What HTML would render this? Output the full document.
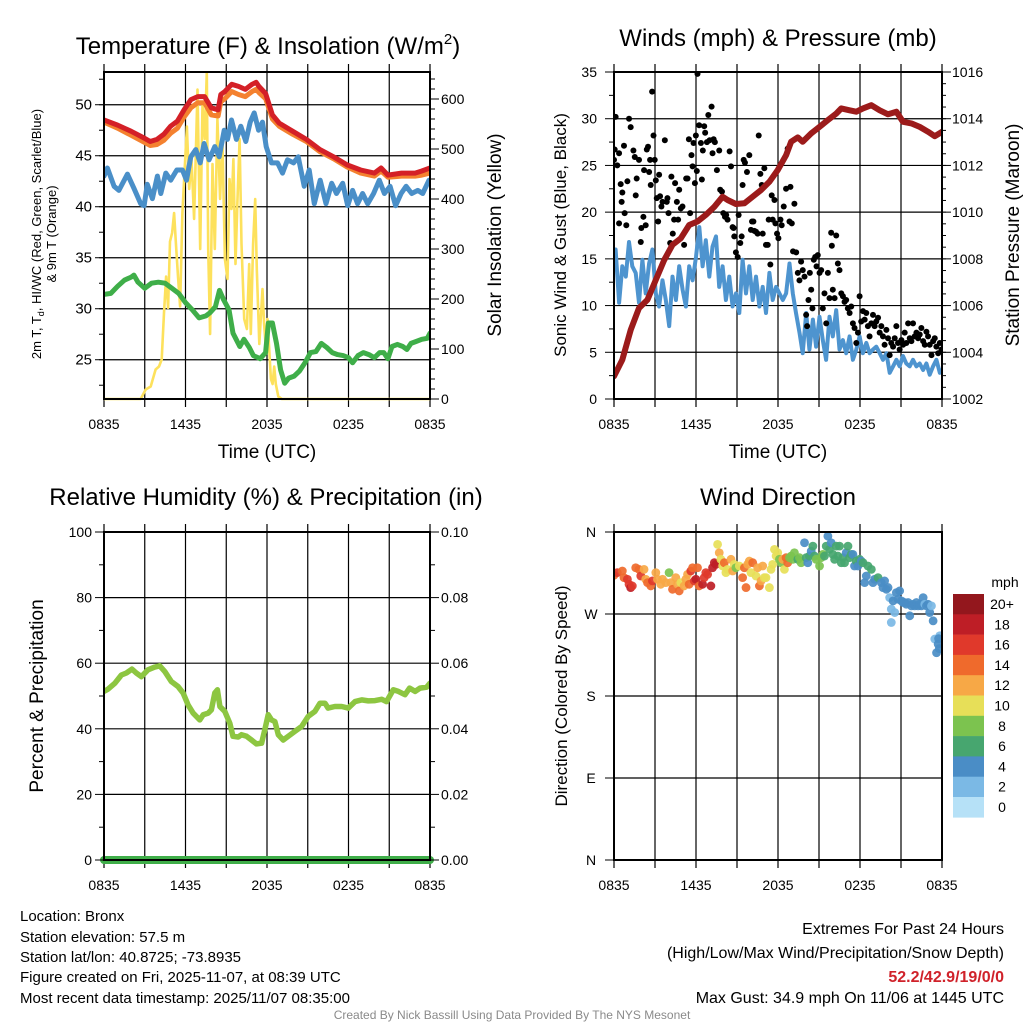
<!DOCTYPE html>
<html><head><meta charset="utf-8">
<style>
html,body{margin:0;padding:0;background:#fff;}
svg{display:block;font-family:"Liberation Sans",Arial,sans-serif;}
</style></head>
<body>
<svg id="chart" width="1024" height="1024" viewBox="0 0 1024 1024" xmlns="http://www.w3.org/2000/svg">
<defs>
<clipPath id="c1"><rect x="104" y="72" width="326" height="331"/></clipPath>
<clipPath id="c2"><rect x="614" y="72" width="328" height="331"/></clipPath>
<clipPath id="c3"><rect x="104" y="532" width="326" height="332"/></clipPath>
<clipPath id="c4"><rect x="614" y="532" width="328" height="332"/></clipPath>
</defs>
<g id="layer"></g>
<text x="268" y="54" font-size="24" text-anchor="middle">Temperature (F) &amp; Insolation (W/m<tspan font-size="15" dy="-10">2</tspan><tspan dy="10">)</tspan></text>
<text x="778" y="46" font-size="24" text-anchor="middle">Winds (mph) &amp; Pressure (mb)</text>
<text x="266" y="505" font-size="24" text-anchor="middle">Relative Humidity (%) &amp; Precipitation (in)</text>
<text x="778" y="505" font-size="24" text-anchor="middle">Wind Direction</text>

<text transform="translate(41,234) rotate(-90)" font-size="13" text-anchor="middle">2m T, T<tspan font-size="9" dy="3">d</tspan><tspan dy="-3">, HI/WC (Red, Green, Scarlet/Blue)</tspan></text>
<text transform="translate(56,234) rotate(-90)" font-size="13" text-anchor="middle">&amp; 9m T (Orange)</text>
<text transform="translate(501,235) rotate(-90)" font-size="19" text-anchor="middle">Solar Insolation (Yellow)</text>
<text transform="translate(566,235) rotate(-90)" font-size="17" text-anchor="middle">Sonic Wind &amp; Gust (Blue, Black)</text>
<text transform="translate(1019,235) rotate(-90)" font-size="19" text-anchor="middle">Station Pressure (Maroon)</text>
<text transform="translate(43,696) rotate(-90)" font-size="19" text-anchor="middle">Percent &amp; Precipitation</text>
<text transform="translate(567,696) rotate(-90)" font-size="17" text-anchor="middle">Direction (Colored By Speed)</text>
<text x="267" y="458" font-size="19" text-anchor="middle">Time (UTC)</text>
<text x="778" y="458" font-size="19" text-anchor="middle">Time (UTC)</text>

<g font-size="15">
<text x="20" y="921">Location: Bronx</text>
<text x="20" y="942">Station elevation: 57.5 m</text>
<text x="20" y="962">Station lat/lon: 40.8725; -73.8935</text>
<text x="20" y="982">Figure created on Fri, 2025-11-07, at 08:39 UTC</text>
<text x="20" y="1003">Most recent data timestamp: 2025/11/07 08:35:00</text>
</g>
<g font-size="16" text-anchor="end">
<text x="1004" y="934">Extremes For Past 24 Hours</text>
<text x="1004" y="958">(High/Low/Max Wind/Precipitation/Snow Depth)</text>
<text x="1004" y="982" fill="#d0222a" font-weight="bold">52.2/42.9/19/0/0</text>
<text x="1004" y="1003">Max Gust: 34.9 mph On 11/06 at 1445 UTC</text>
</g>
<text x="512" y="1019" font-size="12" fill="#8a8a8a" text-anchor="middle">Created By Nick Bassill Using Data Provided By The NYS Mesonet</text>
</svg>
<script>
// ---------- Panel 1: temperature ----------
const tempTimes=[0,1,2,3,3.4,3.9,4.4,4.9,5.4,5.9,6.4,6.9,7.4,7.9,8.4,8.6,8.9,9.4,9.9,10.4,10.9,11.2,11.4,11.9,12.4,12.9,13.9,14.9,15.9,16.9,17.9,18.9,19.9,20.4,20.9,21.9,22.9,23.4,24];
const tempRed=[48.5,48.0,47.4,46.7,46.4,46.6,47.1,47.9,48.4,49.5,50.5,50.8,50.8,49.7,49.5,51.0,51.3,52.0,51.8,51.5,52.0,52.2,51.8,51.1,49.0,48.2,47.4,46.6,45.6,44.9,44.1,43.6,43.3,43.8,43.1,43.3,43.3,43.5,43.8];
const tempOrange=[48.3,47.7,47.0,46.3,46.0,46.1,46.5,47.2,47.7,48.8,49.7,50.2,50.2,49.0,48.9,50.3,50.6,51.3,51.0,50.8,51.3,51.5,51.2,50.6,48.6,47.9,47.1,46.4,45.4,44.7,43.9,43.3,43.0,43.5,42.9,43.0,43.0,43.1,43.3];
const hiwcTimes=[0,0.25,0.74,1.1,1.72,2.21,2.7,2.95,3.19,3.56,3.93,4.18,4.55,4.91,5.36,5.77,6.07,6.39,6.76,7.08,7.37,7.74,8.16,8.48,8.85,9.09,9.39,9.75,10.07,10.44,10.76,11.06,11.38,11.67,11.94,12.33,12.78,13.14,13.51,13.96,14.3,14.74,15.11,15.48,15.92,16.34,16.76,17.12,17.57,17.94,18.3,18.67,19.04,19.41,19.85,20.27,20.64,21.06,21.47,21.87,22.24,22.65,23.1,23.46,23.93];
const hiwcBlue=[43.0,43.8,42.0,41.6,43.2,41.8,40.3,40.1,42.2,40.8,43.0,41.3,43.3,42.6,43.6,43.6,42.6,44.9,45.6,44.3,46.2,44.6,45.9,44.9,47.5,46.6,48.5,46.6,47.9,46.4,48.3,49.2,47.5,48.3,45.9,44.3,44.3,43.3,44.6,44.3,44.9,42.0,43.6,40.3,42.6,40.3,42.3,41.3,42.3,40.1,41.6,40.3,41.3,40.3,41.3,42.6,41.3,42.0,40.1,41.3,42.0,41.3,41.6,41.3,42.6];
const dewTimes=[0,0.5,1,1.5,2,2.2,2.5,3,3.5,4,4.5,5,5.5,6,6.5,7,7.5,7.8,8.2,8.5,8.8,9.2,9.5,10,10.3,10.7,11,11.5,11.9,12.1,12.4,12.7,13,13.3,13.6,14,14.4,14.8,15.2,15.6,16,16.4,16.8,17.2,17.6,18,18.3,18.7,19.1,19.5,19.9,20.3,20.6,20.9,21.2,21.6,22,22.3,22.6,23,23.4,23.8,24];
const dewGreen=[31.4,31.5,32.2,32.8,33.1,33.3,32.6,32.0,32.5,32.6,32.5,32.0,31.5,30.6,29.9,29.1,29.3,29.6,30.2,31.8,30.9,29.9,27.6,26.3,27.0,26.2,25.4,25.1,25.7,28.6,28.6,26.6,24.0,22.7,23.2,23.4,23.9,24.7,25.7,25.8,26.6,26.2,25.7,25.5,25.4,25.2,24.7,25.4,25.7,25.5,25.2,25.7,25.7,25.1,26.3,26.5,26.3,26.0,26.6,26.8,27.0,27.1,27.6];
const solarTimes=[0,2.7,3.07,3.44,3.8,4.05,4.25,4.42,4.57,4.72,4.86,5.01,5.16,5.31,5.45,5.6,5.77,6.1,6.27,6.44,6.63,6.88,7.08,7.25,7.42,7.57,7.67,7.81,7.99,8.16,8.35,8.55,8.72,8.9,9.09,9.24,9.39,9.53,9.68,9.83,9.98,10.12,10.32,10.52,10.69,10.81,10.98,11.13,11.25,11.43,11.67,11.79,11.92,12.04,12.16,12.29,12.41,12.53,12.65,12.83,13.1,24];
const solarYellow=[0,0,19,25,59,65,79,172,245,182,315,332,372,305,245,185,372,545,420,480,360,619,300,590,520,655,300,130,470,300,560,400,520,280,240,440,380,480,270,400,520,310,160,140,270,130,310,400,260,110,220,150,100,160,100,40,30,65,30,5,0,0];
const tempTicks=[25,30,35,40,45,50];
const solarTicks=[0,100,200,300,400,500,600];
const timeTickLabels=["0835","1435","2035","0235","0835"];
// ---------- Panel 2: winds ----------
const windTimes=[0,0.12,0.37,0.61,0.86,1.1,1.34,1.59,1.83,2.08,2.32,2.57,2.81,3.06,3.3,3.55,3.79,4.04,4.28,4.53,4.77,5.02,5.26,5.5,5.75,6.0,6.24,6.48,6.72,6.97,7.21,7.46,7.7,7.95,8.19,8.44,8.68,8.93,9.17,9.41,9.66,9.9,10.15,10.39,10.64,10.88,11.12,11.37,11.61,11.86,12.1,12.35,12.59,12.84,13.08,13.32,13.57,13.81,14.06,14.3,14.55,14.79,15.04,15.28,15.52,15.77,16.01,16.26,16.5,16.75,16.99,17.24,17.48,17.73,17.97,18.21,18.46,18.7,18.95,19.19,19.44,19.68,19.93,20.17,20.42,20.66,20.9,21.15,21.39,21.64,21.88,22.13,22.37,22.62,22.86,23.1,23.35,23.59,23.84,24];
const windSpeed=[14.5,16,10.3,14.2,13.1,16.8,14.2,13.5,10.3,14.9,11.3,14.5,16,11.3,9.9,12.7,10.6,7.8,13.1,10.6,14.2,11.7,9.9,14.2,12.7,15.2,18.4,14.2,17,13.1,16.3,17.4,12,14.2,10.6,13.1,9.9,11.3,9.2,14.9,11.3,14.2,10.6,13.1,9.9,12,9.2,13.5,10.6,12,11.3,10.6,11.3,14.5,11.3,9.2,7.1,4.9,9.2,5.3,8.5,5.6,8.8,6.3,4.2,8.8,6.7,9.5,5.3,6.3,4.9,6.7,4.2,5.3,6.7,4.9,6,4.9,5.3,5.6,4.9,4.2,4.9,2.8,3.5,4.2,3.5,4.6,3.8,3.5,4.2,3.5,3.8,3.1,3.8,2.6,3.5,4.2,2.8,3.1];
const gustTimes=[0,0.05,0.12,0.24,0.37,0.49,0.61,0.56,0.78,0.37,0.9,0.73,1.1,1.22,0.98,1.42,1.52,1.59,1.66,1.83,1.96,2.0,2.15,2.2,2.32,2.4,2.49,2.57,2.64,2.69,2.79,2.89,2.98,3.06,3.13,3.23,3.3,3.37,3.47,3.55,3.72,3.86,3.91,3.99,4.11,4.2,4.3,4.4,4.47,4.6,4.69,4.77,4.89,5.01,5.13,5.28,5.38,5.48,5.57,5.67,5.75,5.82,5.92,5.99,6.06,6.11,6.23,6.36,6.43,6.5,6.6,6.67,6.8,6.9,7,7.14,7.21,7.29,7.38,7.53,7.7,7.77,7.9,8,8.12,8.21,8.31,8.46,8.56,8.68,8.75,8.8,8.92,9.05,9.12,9.24,9.34,9.41,9.49,9.58,9.73,9.9,10.02,10.1,10.2,10.27,10.39,10.51,10.59,10.71,10.81,10.88,11,11.12,11.25,11.32,11.44,11.54,11.61,11.74,11.81,11.93,12.03,12.18,12.27,12.42,12.59,12.71,12.84,12.91,13.01,13.1,13.2,13.33,13.45,13.57,13.69,13.81,13.94,14.06,14.13,14.23,14.33,14.43,14.52,14.62,14.72,14.82,14.91,15.04,15.16,15.28,15.4,15.53,15.65,15.77,15.89,15.94,16.01,16.14,16.26,16.38,16.5,16.63,16.75,16.87,16.99,17.11,17.24,17.36,17.48,17.6,17.73,17.85,17.97,18.09,18.22,18.34,18.46,18.58,18.7,18.83,18.95,19.07,19.19,19.32,19.44,19.56,19.68,19.8,19.93,20.05,20.17,20.29,20.42,20.54,20.66,20.78,20.9,21.03,21.15,21.27,21.39,21.52,21.64,21.76,21.88,22,22.13,22.25,22.37,22.49,22.62,22.74,22.86,22.98,23.1,23.23,23.35,23.47,23.59,23.72,23.84,23.96];
const gustSpeed=[25.6,26.7,30.2,25,26.3,23,22.1,21.1,19.9,18.8,18.6,27.1,30,29.1,23.3,26.6,25.9,21.8,23.6,25.6,16.8,18.3,19.5,24.5,18.6,26.7,27,24.3,25.6,22.9,32.9,28.2,25.6,23.4,21.5,19,24,21.7,20.6,21.1,27.7,21.1,21.5,19.9,16.7,23.8,17.7,19.2,23.1,21.1,19.2,22.4,20.4,20.6,16.5,23.6,23.6,27.8,19.9,26.1,24.9,27.4,23.1,28.2,24.4,34.8,29.3,27.4,23.5,26.6,29.2,28.5,27.5,30.4,27.7,31.3,26.3,27.8,27.5,24.5,26.6,22.4,22.2,19.9,19.5,19.7,19.2,26.5,24.9,18.4,18.3,17.4,15.7,15.2,19.7,16.7,17.4,22.9,25.6,25.3,24.3,26.1,18.1,19,19,18,17.9,17.7,28.2,24.1,22.9,17.7,24.7,16.5,16.5,19.2,14.4,21.8,19.2,21.3,18.8,17.7,17.2,19.2,18.6,20.6,22.5,26.8,19,22.7,18.8,15.8,20.9,15.7,13.5,12.7,14.7,13.8,13.1,9,7.8,10.6,13.5,11.7,9.7,14.9,15.2,14.2,15.4,13.5,13.8,9.7,11.3,8.1,13.5,10.8,17.8,16.4,11.7,10.8,17.5,14.5,13.8,11.3,11,10.4,10.6,9.7,9.2,9.9,8.1,7.6,6,7.1,11,8.3,9.4,8.5,9.2,7.8,6.7,8.1,9,7.8,8.3,8.7,7.1,7.8,6.7,5.8,7.4,6.5,4.7,6,5.6,6.5,7.8,6,5.3,6.3,5.8,7.1,6,8.1,6.5,6.2,8.1,6.7,7.1,6.5,6.9,7.6,6.2,5.8,7.2,6.7,5.8,4.7,6.2,6.5,5.6,4.9,6,5.3];
const pressTimes=[0,0.61,1.22,1.83,2.45,3.06,3.67,4.28,4.89,5.5,6.11,6.72,7.34,7.95,8.31,8.92,9.54,10.15,10.76,11.37,11.98,12.59,12.96,13.45,13.81,14.43,15.04,15.65,16.26,16.63,17.24,17.73,18.22,18.83,19.44,20.05,20.66,21.15,21.76,22.37,22.98,23.47,24];
const pressure=[1002.97,1003.68,1004.96,1005.89,1006.25,1007.1,1007.95,1008.6,1008.88,1009.45,1009.6,1009.88,1010.23,1010.66,1010.52,1010.35,1010.38,1010.66,1010.95,1011.3,1011.8,1012.44,1013.01,1013.2,1013.01,1013.37,1013.65,1013.94,1014.22,1014.44,1014.36,1014.3,1014.44,1014.58,1014.36,1014.19,1014.3,1013.87,1013.8,1013.65,1013.44,1013.25,1013.44];
const windTicks=[0,5,10,15,20,25,30,35];
const pressTicks=[1002,1004,1006,1008,1010,1012,1014,1016];
// ---------- Panel 3: humidity ----------
const rhTimes=[0,0.3,0.8,1.28,1.65,2.06,2.38,2.75,3.24,3.73,4.1,4.47,4.96,5.45,5.82,6.19,6.56,7.05,7.3,7.67,7.91,8.16,8.35,8.53,8.89,9.26,9.5,9.88,10.12,10.5,10.86,11.23,11.6,11.84,12.09,12.33,12.58,12.83,13.19,13.56,14.05,14.55,15.04,15.53,15.9,16.27,16.5,17,17.5,17.98,18.48,18.97,19.46,19.95,20.44,20.8,21.3,21.67,22.16,22.5,22.9,23.27,23.76,24];
const rhValues=[51.4,52.1,53.9,56.4,57.0,58.2,57.0,55.9,58.0,58.8,59.2,57.5,54.4,52.9,50.9,47.3,44.8,42.7,44.3,44.8,45.8,50.9,51.9,46.8,45.3,41.7,37.7,37.5,38.2,37.7,36.6,35.4,35.6,39.7,44.3,42.7,42.2,38.2,36.6,37.7,39.2,40.7,43.8,45.3,47.8,47.8,46.3,46.8,46.8,46.3,48.3,48.8,48.5,48.6,49.0,48.3,51.9,51.4,50.4,52.4,51.4,52.4,52.7,53.9];
const precipTimes=[0,24];
const precipValues=[0,0];
const rhTicks=[0,20,40,60,80,100];
const precipTickLabels=["0.00","0.02","0.04","0.06","0.08","0.10"];
// ---------- Panel 4: direction ----------
const dirTimes=[0,0.24,0.61,0.73,0.98,1.1,1.22,1.34,1.59,1.83,1.96,2.2,2.32,2.45,2.69,2.81,3.06,3.18,3.42,3.55,3.79,4.03,4.16,4.28,4.52,4.65,4.77,4.89,5.13,5.26,5.38,5.5,5.62,5.75,5.87,5.99,6.11,6.23,6.48,6.6,6.72,6.85,7.09,7.21,7.34,7.46,7.58,7.7,7.82,7.95,8.07,8.19,8.31,8.56,8.68,8.8,8.92,9.17,9.41,9.54,9.66,9.78,9.9,10.02,10.15,10.39,10.51,10.64,10.76,10.88,11,11.12,11.37,11.49,11.61,11.74,11.86,11.98,12.1,12.23,12.35,12.47,12.59,12.71,12.84,12.96,13.08,13.2,13.45,13.57,13.69,13.94,14.06,14.18,14.3,14.43,14.55,14.67,14.79,15.04,15.16,15.28,15.4,15.53,15.65,15.77,15.89,16.01,16.14,16.26,16.38,16.5,16.63,16.75,16.87,16.99,17.12,17.24,17.36,17.48,17.6,17.73,17.85,17.97,18.09,18.22,18.34,18.46,18.58,18.83,18.95,19.07,19.32,19.56,19.68,19.8,19.93,20.05,20.17,20.29,20.29,20.42,20.54,20.66,20.78,20.9,21.03,21.15,21.27,21.39,21.52,21.64,21.76,21.88,22,22.13,22.25,22.37,22.49,22.62,22.74,22.86,22.98,23.1,23.23,23.35,23.47,23.84,23.72,23.8,23.6,23.75];
const dirDegrees=[312.5,315.4,317.2,309.9,308.1,302.6,299,300.8,320.8,319,311.7,319,308.1,304.4,300.8,306.3,315.4,308.1,302.6,308.1,304.4,315.4,304.4,297.1,309.9,302.6,295.3,304.4,300.8,308.1,313.5,302.6,317.2,320.8,306.3,308.1,320.8,300.8,302.6,309.9,315.4,313.5,300.8,320.8,326.3,324.5,346.4,337.2,330,322.7,326.3,315.4,319,330,317.2,324.5,320.8,322.7,309.9,320.8,299,324.5,328.1,315.4,326.3,311.7,320.8,300.8,306.3,322.7,309.9,309.9,299,319,324.5,340.9,333.6,337.2,330,326.3,330,319,331.8,326.3,331.8,333.6,330,337.2,330,331.8,326.3,348.2,331.8,326.3,333.6,339,344.5,333.6,330,322.7,331.8,335.4,333.6,344.5,355.5,340.9,348.2,335.4,330,344.5,333.6,344.5,326.3,331.8,326.3,337.2,344.5,331.8,335.4,335.4,322.7,328.1,322.7,330,328.1,326.3,304.4,311.7,322.7,319,304.4,308.1,309.9,304.4,299,306.3,297.1,299,288,275.3,260.7,284.4,271.6,293.5,286.2,295.3,284.4,282.6,282.6,280.7,282.6,268,278.9,280.7,278.9,282.6,278.9,280.7,278.9,288,280.7,278.9,280.7,271.6,278.9,262.5,242.5,246.1,237,232,227.5,243];
const dirSpeeds=[15,16,15,14,16,17,18,16,15,14,16,13,12,14,15,17,12,12,12,13,12,8,12,14,13,12,15,11,13,12,12,14,16,15,17,18,14,14,18,17,17,17,18,18,19,18,10,13,10,10,14,10,10,12,12,10,8,10,15,14,15,13,12,10,14,10,12,15,13,12,10,10,10,11,11,10,10,10,8,8,12,10,14,15,9,8,8,8,7,8,8,4,6,4,7,4,6,7,8,8,8,8,6,6,4,6,4,6,7,6,6,6,6,6,6,4,6,6,6,4,4,6,4,6,5,6,4,4,6,6,4,4,6,4,4,4,4,4,3,3,3,4,3,4,4,4,4,4,4,4,4,4,4,4,4,4,4,4,4,4,3,4,4,4,3,4,3,3,4,4,4,4,4];
const dirTickLabels=["N","E","S","W","N"];
const speedBinLabels=["0","2","4","6","8","10","12","14","16","18","20+"];
const speedBinColors=["#b6e1f7","#7bb9e5","#4a8dc6","#47a66f","#7cc34f","#e7df58","#f7a846","#ef6a2c","#e0392b","#be1e26","#93171d"];

const NS="http://www.w3.org/2000/svg";
const layer=document.getElementById('layer');
function mk(tag,attrs,parent){const e=document.createElementNS(NS,tag);for(const k in attrs)e.setAttribute(k,attrs[k]);(parent||layer).appendChild(e);return e;}
function txt(x,y,s,size,anchor,parent){const t=mk('text',{x:x,y:y,'font-size':size,'text-anchor':anchor},parent);t.textContent=s;return t;}

const P1={x0:104,x1:430,y0:72,y1:399};
const P2={x0:614,x1:942,y0:72,y1:399};
const P3={x0:104,x1:430,y0:532,y1:860};
const P4={x0:614,x1:942,y0:532,y1:860};
function xs(P){return t=>P.x0+t*(P.x1-P.x0)/24;}
const x1=xs(P1),x2=xs(P2),x3=xs(P3),x4=xs(P4);
const yT=v=>399-(v-21.15)*10.2;
const yI=v=>399-v*0.5;
const yW=v=>399-v*(327/35);
const yP=v=>399-(v-1002)*(327/14);
const yR=v=>860-v*3.28;
const yD=v=>860-v*(328/360);

function grid(P,yvals,name){
  const g=mk('g',{stroke:'#000','stroke-width':1.2});
  
  
  for(let i=1;i<8;i++){const x=P.x0+i*(P.x1-P.x0)/8;mk('line',{x1:x,x2:x,y1:P.y0-8,y2:P.y1+8},g);}
  yvals.forEach(y=>mk('line',{x1:P.x0,x2:P.x1,y1:y,y2:y},g));
  mk('line',{x1:P.x0,x2:P.x0,y1:P.y0-8,y2:P.y1+8},g);
  mk('line',{x1:P.x1,x2:P.x1,y1:P.y0-8,y2:P.y1+8},g);
}
function frame(P,name){
  const r=mk('rect',{x:P.x0,y:P.y0,width:P.x1-P.x0,height:P.y1-P.y0,fill:'none',stroke:'#000','stroke-width':2});
  
  
}
function xLabels(P,name){
  const g=mk('g',{});
  
  
  timeTickLabels.forEach((s,i)=>txt(P.x0+i*(P.x1-P.x0)/4,P.y1+30,s,14,'middle',g));
}
function line(times,vals,xf,yf,color,w,clip,name){
  let d='';
  const n=Math.min(times.length,vals.length);
  for(let i=0;i<n;i++){d+=(i?'L':'M')+xf(times[i]).toFixed(1)+','+yf(vals[i]).toFixed(1);}
  const attrs={d:d,fill:'none',stroke:color,'stroke-width':w,'stroke-linejoin':'round','stroke-linecap':'round'};
  if(clip)attrs['clip-path']='url(#'+clip+')';
  const p=mk('path',attrs);
  
  
}
function ticksY(x,vals,yf,dir,len,name){
  const g=mk('g',{stroke:'#000','stroke-width':1});
  
  
  vals.forEach(v=>mk('line',{x1:x,x2:x+dir*len,y1:yf(v),y2:yf(v)},g));
}

// ---------- Panel 1 ----------
grid(P1,tempTicks.map(yT),'temperature-grid');
line(solarTimes,solarYellow,x1,yI,'#fde15c',2.6,'c1','insolation-line');
line(dewTimes,dewGreen,x1,yT,'#3fae49',5,'c1','dewpoint-line');
line(hiwcTimes,hiwcBlue,x1,yT,'#4a8fc8',5,'c1','heat-index-wind-chill-line');
line(tempTimes,tempOrange,x1,yT,'#f4812f',5,'c1','temperature-9m-line');
line(tempTimes,tempRed,x1,yT,'#d42027',5,'c1','temperature-2m-line');
frame(P1,'temperature-plot-frame');
{const minor=[];for(let v=22.5;v<53;v+=2.5)minor.push(v);
 ticksY(104,minor,yT,-1,5,'temperature-minor-ticks');
 ticksY(104,tempTicks,yT,-1,9,'temperature-major-ticks');
 const sm=[];for(let v=20;v<=650;v+=20)sm.push(v);
 ticksY(430,sm,yI,1,5,'insolation-minor-ticks');
 ticksY(430,solarTicks,yI,1,9,'insolation-major-ticks');
 const g=mk('g',{});
 tempTicks.forEach(v=>txt(92,yT(v)+5,String(v),15,'end',g));
 const g2=mk('g',{});
 solarTicks.forEach(v=>txt(441,yI(v)+5,String(v),14,'start',g2));}
xLabels(P1,'temperature-x-tick-labels');

// ---------- Panel 2 ----------
grid(P2,windTicks.slice(1,7).map(yW),'wind-grid');
line(windTimes,windSpeed,x2,yW,'#4e94cf',4,'c2','sonic-wind-line');
{const g=mk('g',{fill:'#000','clip-path':'url(#c2)'});
 const n=Math.min(gustTimes.length,gustSpeed.length);
 for(let i=0;i<n;i++){const c=mk('circle',{cx:x2(gustTimes[i]),cy:yW(gustSpeed[i]),r:3},g);
  
  }}
line(pressTimes,pressure,x2,yP,'#9c1b1b',6,'c2','pressure-line');
frame(P2,'wind-plot-frame');
{const mi=[];for(let v=2.5;v<35;v+=5)mi.push(v);
 ticksY(614,mi,yW,-1,5,'wind-minor-ticks');
 ticksY(614,windTicks,yW,-1,9,'wind-major-ticks');
 const pm=[];for(let v=1002.5;v<1016;v+=0.5)pm.push(v);
 ticksY(942,pm,yP,1,4,'pressure-minor-ticks');
 ticksY(942,pressTicks,yP,1,9,'pressure-major-ticks');
 const g=mk('g',{});
 windTicks.forEach(v=>txt(597,yW(v)+5,String(v),14,'end',g));
 const g2=mk('g',{});
 pressTicks.forEach(v=>txt(952,yP(v)+5,String(v),14,'start',g2));}
xLabels(P2,'wind-x-tick-labels');

// ---------- Panel 3 ----------
grid(P3,rhTicks.slice(1,5).map(yR),'humidity-grid');
line(rhTimes,rhValues,x3,yR,'#8dc641',5.5,'c3','relative-humidity-line');
line(precipTimes,precipValues,x3,v=>yR(v*1000),'#3fae49',8,null,'precipitation-line');
frame(P3,'humidity-plot-frame');
{const mi=[];for(let v=10;v<100;v+=20)mi.push(v);
 ticksY(104,mi,yR,-1,5,'humidity-minor-ticks');
 ticksY(104,rhTicks,yR,-1,9,'humidity-major-ticks');
 ticksY(430,mi,yR,1,5,'precip-minor-ticks');
 ticksY(430,rhTicks,yR,1,9,'precip-major-ticks');
 const g=mk('g',{});
 rhTicks.forEach(v=>txt(92,yR(v)+5,String(v),14,'end',g));
 const g2=mk('g',{});
 precipTickLabels.forEach((s,i)=>txt(441,yR(rhTicks[i])+5,s,14,'start',g2));}
xLabels(P3,'humidity-x-tick-labels');

// ---------- Panel 4 ----------
grid(P4,[90,180,270].map(yD),'direction-grid');
function binColor(s){let i=Math.floor(s/2);if(i>10)i=10;if(i<0)i=0;return speedBinColors[i];}
{const g=mk('g',{'clip-path':'url(#c4)'});
 const n=Math.min(dirTimes.length,dirDegrees.length,dirSpeeds.length);
 for(let i=0;i<n;i++){const c=mk('circle',{cx:x4(dirTimes[i]),cy:yD(dirDegrees[i]),r:4.4,fill:binColor(dirSpeeds[i]),'fill-opacity':0.92},g);
  
  }}
frame(P4,'direction-plot-frame');
{ticksY(614,[0,90,180,270,360],yD,-1,9,'direction-major-ticks');
 const g=mk('g',{});
 dirTickLabels.forEach((s,i)=>txt(591,yD(i*90)+5,s,14,'middle',g));}
xLabels(P4,'direction-x-tick-labels');

// colorbar
{const g=mk('g',{});
 const top=594,h=20.3;
 speedBinLabels.forEach((s,i)=>{const k=10-i;
  const r=mk('rect',{x:953,y:top+i*h,width:31,height:h+0.3,fill:speedBinColors[k]},g);
  
  
  txt(1002,top+i*h+15,speedBinLabels[k],14,'middle',g);});
 txt(1005,587,'mph',14,'middle',g);}
</script>
</body></html>
